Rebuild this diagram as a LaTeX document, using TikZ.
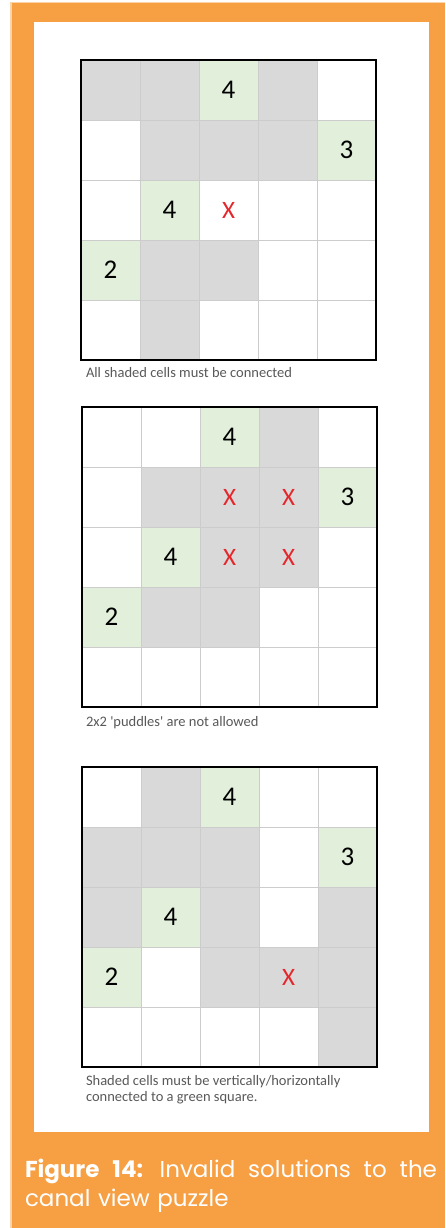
\documentclass[tikz,border=0pt]{standalone}
\usepackage{fontspec}
\setmainfont{Carlito}
\newfontfamily\figfont{Poppins}

\definecolor{pageorange}{HTML}{F79F43}
\definecolor{cellgray}{HTML}{D9D9D9}
\definecolor{cellgreen}{HTML}{E2EFDA}
\definecolor{crossred}{HTML}{E5262B}

\begin{document}
\begin{tikzpicture}[
    x=1pt, y=-1pt,
    every node/.style={inner sep=0pt, outer sep=0pt},
    shaded/.style={fill=cellgray},
    clue/.style={fill=cellgreen},
    cellno/.style={font=\fontsize{27}{30}\selectfont, text=black},
    cross/.style={font=\fontsize{25}{28}\selectfont, text=crossred},
    gridline/.style={draw=gray!40, line width=0.6pt},
    frame/.style={draw=black, line width=1.8pt},
    rule/.style={font=\fontsize{14.5}{15.5}\selectfont, text=gray!70!black, anchor=base west, align=left},
    figcaption/.style={font=\figfont\fontsize{23}{29.5}\selectfont, text=white, anchor=north west, align=left, text width=412pt}
  ]
    \useasboundingbox (0,0) rectangle (445,1228);
    \fill[white] (0,0) rectangle (445,1228);
    \fill[pageorange] (10,2) rectangle (445,1228);
    \draw[pageorange!45, line width=1.5pt] (10.75,1228) -- (10.75,2.75) -- (445,2.75);
    \fill[white] (34,22) rectangle (429,1132);

    % grid 1: shaded cells not connected
    \begin{scope}[shift={(81,60)}, x=59pt, y=-60pt]
      \foreach \c/\r in {0/0,1/0,3/0,1/1,2/1,3/1,1/3,2/3,1/4}
        \fill[shaded] (\c,\r) rectangle ++(1,1);
      \foreach \c/\r/\n in {2/0/4,4/1/3,1/2/4,0/3/2} {
        \fill[clue] (\c,\r) rectangle ++(1,1);
        \node[cellno] (a-\c-\r) at (\c+0.5,\r+0.5) {\n};
      }
      \foreach \i in {1,...,4} {
        \draw[gridline] (\i,0) -- (\i,5);
        \draw[gridline] (0,\i) -- (5,\i);
      }
      \node[cross] (ax-2-2) at (2.5,2.5) {X};
      \draw[frame] (0,0) rectangle (5,5);
    \end{scope}
    \node[rule] (note-a) at (86,377) {All shaded cells must be connected};

    % grid 2: puddles
    \begin{scope}[shift={(82,407)}, x=59pt, y=-60pt]
      \foreach \c/\r in {3/0,1/1,2/1,3/1,2/2,3/2,1/3,2/3}
        \fill[shaded] (\c,\r) rectangle ++(1,1);
      \foreach \c/\r/\n in {2/0/4,4/1/3,1/2/4,0/3/2} {
        \fill[clue] (\c,\r) rectangle ++(1,1);
        \node[cellno] (b-\c-\r) at (\c+0.5,\r+0.5) {\n};
      }
      \foreach \i in {1,...,4} {
        \draw[gridline] (\i,0) -- (\i,5);
        \draw[gridline] (0,\i) -- (5,\i);
      }
      \foreach \c/\r in {2/1,3/1,2/2,3/2}
        \node[cross] (bx-\c-\r) at (\c+0.5,\r+0.5) {X};
      \draw[frame] (0,0) rectangle (5,5);
    \end{scope}
    \node[rule] (note-b) at (86,726) {2x2 \textquotesingle puddles\textquotesingle\ are not allowed};

    % grid 3: not linked to a green square
    \begin{scope}[shift={(82,767)}, x=59pt, y=-60pt]
      \foreach \c/\r in {1/0,0/1,1/1,2/1,0/2,2/2,4/2,2/3,3/3,4/3,4/4}
        \fill[shaded] (\c,\r) rectangle ++(1,1);
      \foreach \c/\r/\n in {2/0/4,4/1/3,1/2/4,0/3/2} {
        \fill[clue] (\c,\r) rectangle ++(1,1);
        \node[cellno] (c-\c-\r) at (\c+0.5,\r+0.5) {\n};
      }
      \foreach \i in {1,...,4} {
        \draw[gridline] (\i,0) -- (\i,5);
        \draw[gridline] (0,\i) -- (5,\i);
      }
      \node[cross] (cx-3-3) at (3.5,3.5) {X};
      \draw[frame] (0,0) rectangle (5,5);
    \end{scope}
    \node[rule] (note-c) at (86,1101) {Shaded cells must be vertically/horizontally\\connected to a green square.};

    \node[figcaption] (figcap) at (25,1159)
      {\hbox to 412pt{\spaceskip=0.25em plus 1fil\relax\textbf{Figure 14:}\hspace{5pt} Invalid solutions to the}\\canal view puzzle};
  \end{tikzpicture}
\end{document}
